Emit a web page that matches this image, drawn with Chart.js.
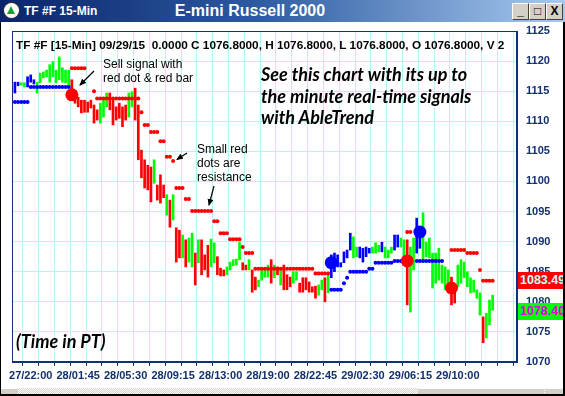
<!DOCTYPE html>
<html><head><meta charset="utf-8">
<script src="https://cdn.jsdelivr.net/npm/chart.js@4"></script>
<style>
html,body{margin:0;padding:0;background:#fff;}
#wrap{position:relative;width:565px;height:396px;overflow:hidden;background:#fff;font-family:"Liberation Sans",Arial,sans-serif;}
#cv{position:absolute;left:0;top:0;}
.tb{position:absolute;left:0;top:0;width:565px;height:22px;background:linear-gradient(to right,#0a246a 0%,#2c5aa0 45%,#a8caf0 100%);}
.tb .t1{position:absolute;left:24px;top:4px;color:#fff;font:bold 12px "Liberation Sans",Arial;}
.tb .t2{position:absolute;left:0;width:500px;text-align:center;top:2px;color:#fff;font:bold 16px "Liberation Sans",Arial;}
.ico{position:absolute;left:4px;top:3px;width:15px;height:15px;border-radius:50%;background:#fff;box-shadow:0 0 0 1px #333;}
.ico i{position:absolute;left:3px;top:3px;width:0;height:0;border-left:4.5px solid transparent;border-right:4.5px solid transparent;border-bottom:8px solid #18a030;}
.btn{position:absolute;top:3px;width:15px;height:15px;background:#d4d0c8;border-top:1px solid #fff;border-left:1px solid #fff;border-right:1px solid #404040;border-bottom:1px solid #404040;font:bold 12px "Liberation Sans",Arial;color:#000;text-align:center;line-height:14px;}
.txt{position:absolute;white-space:nowrap;color:#000;}
.info{left:16px;top:38px;font:bold 11.8px "Liberation Sans",Arial;}
.ann{font:12px "Liberation Sans",Arial;line-height:13.5px;}
.big{font:italic bold 18px Lato,"Open Sans",sans-serif;line-height:21.5px;}
.tag{position:absolute;left:518px;width:60px;height:17px;font:bold 12.5px "Liberation Sans",Arial;line-height:17px;padding-left:2px;}
.sb{position:absolute;left:0;top:388px;width:565px;height:6px;background-color:#e8e4dc;background-image:repeating-conic-gradient(#d4d0c8 0 25%,#fff 0 50%);background-size:2px 2px;}
.sbb{position:absolute;top:388px;height:6px;background:#d4d0c8;border-top:1px solid #fff;box-sizing:border-box;}
.frameL{position:absolute;left:0;top:22px;width:1px;height:374px;background:#000;}
.frameR{position:absolute;right:0;top:22px;width:2px;height:374px;background:#000;}
.frameB{position:absolute;left:0;top:394px;width:565px;height:2px;background:#000;}
</style></head>
<body>
<div id="wrap">
<canvas id="cv" width="565" height="388"></canvas>
<div class="tb"><div class="ico"><i></i></div><div class="t1">TF #F 15-Min</div><div class="t2">E-mini Russell 2000</div>
<div class="btn" style="left:512px">_</div><div class="btn" style="left:529px">□</div><div class="btn" style="left:546px">X</div></div>
<div class="txt info">TF #F [15-Min] 09/29/15&nbsp; 0.0000 C 1076.8000, H 1076.8000, L 1076.8000, O 1076.8000, V 2</div>
<div class="txt ann" style="left:103px;top:58px">Sell signal with<br>red dot &amp; red bar</div>
<div class="txt ann" style="left:197px;top:142px;line-height:14px">Small red<br>dots are<br>resistance</div>
<div class="txt big" style="left:261px;top:64px">See this chart with its up to<br>the minute real-time signals<br>with AbleTrend</div>
<div class="txt big" style="left:16px;top:331px">(Time in PT)</div>
<div class="tag" id="tag0" style="background:#ff0000;color:#c8ffff;top:272px">1083.49</div>
<div class="tag" id="tag1" style="background:#00ff00;color:#e000e0;top:302px">1078.40</div>
<svg style="position:absolute;left:0;top:0" width="565" height="396">
<defs><marker id="ah" markerWidth="8" markerHeight="8" refX="6" refY="3" orient="auto" markerUnits="userSpaceOnUse"><path d="M0,0 L7,3 L0,6 z" fill="#000"/></marker></defs>
<line x1="94" y1="71" x2="80" y2="85" stroke="#000" stroke-width="1.2" marker-end="url(#ah)"/>
<line x1="187" y1="153" x2="177" y2="159.5" stroke="#000" stroke-width="1.2" marker-end="url(#ah)"/>
<line x1="214" y1="186" x2="209" y2="205" stroke="#000" stroke-width="1.2" marker-end="url(#ah)"/>
</svg>
<div class="sb"></div>
<div class="sbb" style="left:1px;width:17px"></div>
<div class="sbb" style="left:418px;width:126px"></div>
<div class="sbb" style="left:545px;width:18px"></div>
<div class="frameL"></div><div class="frameR"></div><div class="frameB"></div>
</div>
<script>
const _ = null;
// x-axis tick labels and their bar positions
const tickLabels = ['27/22:00','28/01:45','28/05:30','28/09:15','28/13:00','28/19:00','28/22:45','29/02:30','29/06:15','29/10:00'];
const tickPos = [5,20,35,50,65,80,95,110,125,140];
// bar trend colour code: B = up (blue), G = neutral (green), R = down (red)
const barTrend = ['B','B','G','G','B','B','B','G','G','G','G','G','G','G','G','G','G','G','R','R',
'R','R','R','R','R','R','R','G','G','G','R','R','R','R','R','R','G','G','R','R',
'R','R','R','R','G','R','R','R','G','R','G','R','R','G','R','G','G','R','G','R',
'R','R','G','G','R','R','R','G','G','G','G','G','R','R','G','R','R','G','G','G',
'G','R','G','R','G','R','R','R','G','G','R','R','R','R','R','R','G','G','R','G',
'B','B','B','B','B','B','B','G','G','B','B','B','B','G','G','G','B','G','G','G',
'B','B','G','G','R','G','G','B','B','G','G','G','G','G','G','G','G','G','R','R',
'G','G','G','G','G','G','G','G','R','G','G','G'];
const barLow = [1114.7,1115.9,1116.0,1115.7,1115.7,1116.5,1116.2,1114.7,1116.4,1117.2,1117.4,1116.5,1117.4,1116.4,1116.9,1116.5,1116.4,1115.7,1113.9,1113.0,
1112.4,1111.4,1111.5,1111.5,1112.2,1109.7,1110.2,1109.7,1110.7,1112.4,1111.9,1109.4,1110.2,1110.5,1109.1,1110.2,1110.7,1112.4,1110.2,1103.6,
1100.6,1098.9,1098.6,1096.6,1099.7,1096.9,1096.4,1097.3,1094.4,1092.4,1093.6,1086.6,1087.3,1087.3,1085.8,1086.6,1085.8,1082.8,1086.5,1084.5,
1085.3,1084.1,1085.8,1086.5,1084.5,1084.3,1084.3,1084.5,1085.3,1086.0,1086.1,1087.0,1085.3,1085.3,1085.3,1081.6,1082.0,1082.5,1083.6,1084.1,
1084.1,1083.1,1084.0,1084.5,1082.8,1082.0,1082.0,1082.5,1083.1,1083.6,1081.6,1081.6,1082.0,1081.6,1081.6,1080.6,1081.1,1082.0,1080.0,1081.5,
1084.0,1085.0,1085.8,1085.8,1086.5,1087.3,1088.6,1087.3,1087.5,1087.3,1086.6,1087.5,1088.1,1088.1,1088.1,1088.3,1088.3,1087.3,1087.3,1088.1,
1088.6,1089.1,1089.1,1086.1,1079.5,1078.3,1085.3,1088.1,1088.9,1086.5,1087.5,1087.3,1082.3,1083.1,1083.6,1083.1,1082.0,1082.8,1079.5,1079.8,
1082.5,1083.1,1084.0,1082.5,1081.5,1081.6,1080.6,1077.8,1073.2,1074.0,1076.2,1078.6];
const barHigh = [1116.5,1116.5,1116.4,1116.4,1117.4,1117.7,1116.9,1116.5,1118.0,1118.2,1118.5,1119.4,1119.9,1118.5,1120.7,1118.9,1118.5,1118.5,1116.9,1114.9,
1114.0,1113.5,1113.5,1113.2,1113.5,1112.7,1111.9,1113.0,1114.0,1114.7,1114.7,1113.5,1112.4,1113.0,1112.4,1112.7,1114.7,1114.9,1115.5,1112.7,
1105.2,1103.6,1102.7,1102.4,1103.6,1099.4,1101.1,1099.4,1097.8,1096.9,1097.8,1092.3,1091.9,1091.1,1090.3,1090.6,1091.4,1088.1,1090.3,1090.3,
1087.8,1089.4,1090.4,1089.8,1087.5,1085.6,1085.3,1085.8,1086.6,1087.0,1087.1,1089.9,1086.5,1086.1,1087.0,1085.3,1084.1,1083.6,1085.3,1085.6,
1086.1,1087.0,1086.1,1085.8,1085.3,1086.1,1084.5,1084.1,1085.0,1085.0,1083.1,1084.0,1084.0,1083.3,1082.5,1082.6,1082.8,1083.6,1084.0,1084.8,
1087.8,1088.1,1087.8,1086.5,1088.3,1088.6,1091.4,1090.8,1089.1,1089.1,1088.9,1089.1,1088.9,1089.1,1089.8,1089.4,1089.9,1089.1,1088.6,1089.1,
1091.1,1091.1,1090.6,1090.3,1090.3,1089.1,1090.6,1093.9,1092.4,1094.8,1089.9,1090.6,1088.1,1088.1,1088.9,1086.1,1085.8,1085.3,1084.1,1082.0,
1086.1,1087.0,1086.6,1085.0,1084.0,1083.6,1082.0,1081.5,1077.5,1078.1,1080.3,1081.1];
// small red resistance dots (null = none)
const resistance = [_,_,_,_,_,_,_,_,_,_,_,_,_,_,_,_,_,_,1118.8,1118.8,
1118.8,1118.8,1118.8,_,_,1115.0,1113.8,1113.8,1113.8,1113.8,1113.8,1113.8,1113.8,1113.8,1113.8,1113.8,1113.8,1113.8,1113.8,1113.8,
1111.5,1109.4,1109.4,1108.2,1108.2,1108.2,1106.7,1106.7,1104.1,1104.1,1103.4,1098.9,1098.9,1098.9,1097.1,1097.1,1095.1,1095.1,1095.1,1095.1,
1095.1,1095.1,1095.1,1093.4,1093.4,1091.4,1091.4,1091.4,1090.4,1090.4,1090.4,1090.4,1089.1,1088.1,1088.1,1088.1,1085.5,1085.5,1085.5,1085.5,
1085.5,1085.5,1085.5,1085.5,1085.5,1085.5,1085.5,1085.5,1085.5,1085.5,1085.5,1085.5,1085.5,1085.5,1085.5,1084.7,1084.7,1084.7,1084.7,1084.7,
_,_,_,_,_,_,_,_,_,_,_,_,_,_,_,_,_,_,_,_,
_,_,_,_,1091.6,1091.6,_,_,_,_,_,_,_,_,_,_,_,_,1088.6,1088.6,
1088.6,1088.6,1088.6,1088.1,1088.1,1088.1,1088.1,1085.3,1083.5,1083.5,1083.5,1083.5];
// small blue support dots (null = none)
const support = [1113.2,1113.2,1113.2,1113.2,1113.2,1115.7,1115.7,1115.7,1115.7,1115.7,1115.7,1115.7,1115.7,1115.7,1115.7,1115.7,1115.7,1115.7,_,_,
_,_,_,_,_,_,_,_,_,_,_,_,_,_,_,_,_,_,_,_,
_,_,_,_,_,_,_,_,_,_,_,_,_,_,_,_,_,_,_,_,
_,_,_,_,_,_,_,_,_,_,_,_,_,_,_,_,_,_,_,_,
_,_,_,_,_,_,_,_,_,_,_,_,_,_,_,_,_,_,_,_,
1082.0,1082.0,1082.0,1082.0,1083.1,1084.0,1085.0,1085.0,1085.0,1085.0,1085.0,1085.0,1085.5,1085.5,1086.5,1086.5,1086.5,1086.5,1086.5,1086.5,
1086.8,1086.8,1086.8,_,_,_,_,1086.8,1086.8,1086.8,1086.8,1086.8,1086.8,1086.8,1086.8,1086.8,_,_,_,_,
_,_,_,_,_,_,_,_,_,_,_,_];
// big buy / sell signal dots
const signalIdx = [18,100,124,128,138];
const signalPrice = [1114.4,1086.5,1086.8,1091.6,1082.3];
const signalTrend = ['R','B','R','B','R'];
// last-price tags on the right axis
const tagValues = [1083.49,1078.40];

const COL = {B:'#0000ff', G:'#00ff00', R:'#ff0000'};
const barIndex = barLow.map((v,i)=>i);
const NAVY = '#12306e', GRID = '#b9f2f2';
const FONT = '"Liberation Sans", Arial, sans-serif';

const framePlugin = {id:'frame', afterDraw(c){
  const a=c.chartArea, ctx=c.ctx; ctx.save(); ctx.strokeStyle='#10307a'; ctx.lineWidth=1;
  ctx.strokeRect(Math.round(a.left)+0.5, Math.round(a.top)+0.5, Math.round(a.right-a.left)-1, Math.round(a.bottom-a.top)-1);
  ctx.restore();
}};
const tagPlugin = {id:'tags', afterRender(c){
  tagValues.forEach((v,i)=>{ document.getElementById('tag'+i).style.top = (c.scales.y.getPixelForValue(v)-8.5)+'px'; });
}};

new Chart(document.getElementById('cv'), {
  data: {
    labels: barIndex,
    datasets: [
      {type:'bar', data: barLow.map((l,i)=>[l, barHigh[i]]), backgroundColor: barTrend.map(t=>COL[t]), barThickness:2, order:3},
      {type:'line', data: resistance, showLine:false, pointRadius:2, pointHoverRadius:2, pointBackgroundColor:'#ff0000', pointBorderWidth:0, order:2},
      {type:'line', data: support, showLine:false, pointRadius:2, pointHoverRadius:2, pointBackgroundColor:'#0000ff', pointBorderWidth:0, order:2},
      {type:'scatter', data: signalIdx.map((x,i)=>({x:x, y:signalPrice[i]})), pointRadius:6.5, pointHoverRadius:6.5, pointBackgroundColor: signalTrend.map(t=>COL[t]), pointBorderWidth:0, order:1}
    ]
  },
  options: {
    responsive:false, devicePixelRatio:1, animation:false,
    layout:{padding:{left:12, top:31, right:0, bottom:0}},
    plugins:{legend:{display:false}, tooltip:{enabled:false}},
    scales:{
      x:{type:'linear', min:-0.92, max:158.7, offset:false,
         afterBuildTicks(s){ const t=[]; for(let v=0; v<=155; v+=5) t.push({value:v}); s.ticks=t; },
         afterFit(s){ s.height=26; },
         grid:{color:GRID, tickColor:NAVY, tickLength:4, drawTicks:true},
         border:{display:true, color:'#10307a'},
         ticks:{autoSkip:false, maxRotation:0, padding:3, color:NAVY, font:{family:FONT, weight:'bold', size:11},
           callback(v){ const k=tickPos.indexOf(v); return k>=0 ? tickLabels[k] : ''; }}
      },
      y:{position:'right', min:1070, max:1125,
         afterFit(s){ s.width=48; },
         grid:{color:GRID, drawTicks:false},
         border:{display:true, color:'#10307a'},
         ticks:{stepSize:5, padding:9, color:NAVY, font:{family:FONT, weight:'bold', size:11}, callback(v){ return String(v); }}
      }
    }
  },
  plugins:[framePlugin, tagPlugin]
});
</script>
</body></html>
